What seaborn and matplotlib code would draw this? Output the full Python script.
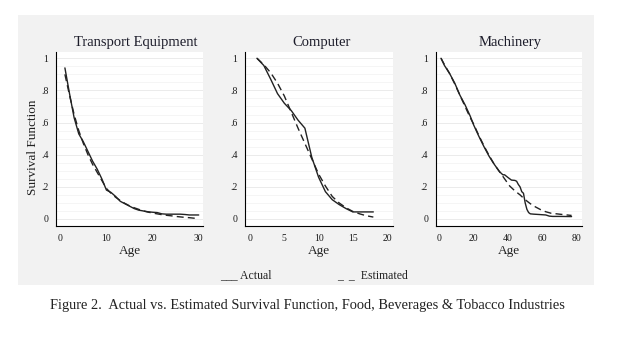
import matplotlib
matplotlib.use("Agg")
import matplotlib.pyplot as plt
from matplotlib.patches import Rectangle
from matplotlib.ticker import MultipleLocator
import pandas as pd
import seaborn as sns

# ---- data -------------------------------------------------------------
panel_titles = ["Transport Equipment", "Computer", "Machinery"]

transport_age = list(range(1, 31))
transport_actual = [0.94, 0.78, 0.63, 0.53, 0.48, 0.42, 0.36, 0.31, 0.25, 0.18,
                    0.165, 0.14, 0.11, 0.095, 0.08, 0.065, 0.055, 0.05, 0.045, 0.042,
                    0.04, 0.032, 0.03, 0.03, 0.03, 0.03, 0.028, 0.025, 0.025, 0.025]
transport_estimated = [0.90, 0.77, 0.65, 0.55, 0.47, 0.40, 0.34, 0.29, 0.24, 0.19,
                       0.16, 0.135, 0.115, 0.097, 0.082, 0.07, 0.06, 0.05, 0.043, 0.037,
                       0.032, 0.027, 0.023, 0.02, 0.016, 0.013, 0.01, 0.008, 0.005, 0.002]

computer_age = list(range(1, 19))
computer_actual = [1.0, 0.955, 0.87, 0.78, 0.72, 0.675, 0.615, 0.565, 0.385, 0.26,
                   0.17, 0.12, 0.09, 0.065, 0.044, 0.044, 0.044, 0.044]
computer_estimated = [1.0, 0.96, 0.91, 0.845, 0.765, 0.665, 0.565, 0.47, 0.375, 0.28,
                      0.205, 0.14, 0.10, 0.07, 0.047, 0.032, 0.02, 0.012]

machinery_age_actual = [1, 3, 6, 9, 12, 15, 18, 20, 23, 26, 29, 32, 35, 37, 38, 40, 42,
                        44, 45, 46, 47, 48, 49, 50, 51, 52, 53, 55, 58, 62, 64, 66, 70, 77]
machinery_actual = [1.0, 0.955, 0.905, 0.845, 0.77, 0.71, 0.64, 0.585, 0.515, 0.45,
                    0.39, 0.34, 0.295, 0.275, 0.275, 0.258, 0.242, 0.24, 0.235, 0.215,
                    0.20, 0.17, 0.16, 0.10, 0.06, 0.04, 0.032, 0.03, 0.028, 0.025,
                    0.018, 0.016, 0.016, 0.015]
machinery_age_est = [1, 3, 6, 9, 12, 15, 18, 20, 23, 26, 29, 32, 35, 38, 41, 44, 47,
                     50, 53, 56, 59, 62, 65, 70, 77]
machinery_estimated = [1.0, 0.96, 0.905, 0.84, 0.77, 0.70, 0.63, 0.59, 0.52, 0.455,
                       0.395, 0.34, 0.295, 0.25, 0.205, 0.175, 0.15, 0.12, 0.095,
                       0.075, 0.058, 0.045, 0.036, 0.03, 0.022]

x_ticks = [[0, 10, 20, 30], [0, 5, 10, 15, 20], [0, 20, 40, 60, 80]]
x_limits = [(-0.93, 30.93), (-0.75, 20.8), (-2.1, 82.9)]
y_ticks = [0, 0.2, 0.4, 0.6, 0.8, 1.0]
y_tick_labels = ["0", ".2", ".4", ".6", ".8", "1"]

series = [
    (transport_age, transport_actual, transport_age, transport_estimated),
    (computer_age, computer_actual, computer_age, computer_estimated),
    (machinery_age_actual, machinery_actual, machinery_age_est, machinery_estimated),
]

# ---- style ------------------------------------------------------------
sns.set_style("white")
plt.rcParams["font.family"] = ["Liberation Serif", "DejaVu Serif"]
plt.rcParams["axes.linewidth"] = 0.8

W, H = 619, 338
fig = plt.figure(figsize=(W / 100, H / 100), dpi=100)
fig.patch.set_facecolor("white")

# light grey graph region behind the three panels and the legend
fig.patches.append(Rectangle((18 / W, (H - 285) / H), (594 - 18) / W, (285 - 15) / H,
                             transform=fig.transFigure, facecolor="#f2f2f2",
                             edgecolor="none", zorder=-10))

lefts = [56, 245, 435.7]
widths = [147, 147.5, 146]
title_x = [0.544, 0.52, 0.509]
ax_bottom, ax_height = H - 226, 174
line_color = "#222222"

for i, (xa, ya, xe, ye) in enumerate(series):
    ax = fig.add_axes([lefts[i] / W, ax_bottom / H, widths[i] / W, ax_height / H])
    ax.set_zorder(1)
    ax.set_facecolor("white")

    df_a = pd.DataFrame({"Age": xa, "Survival": ya})
    df_e = pd.DataFrame({"Age": xe, "Survival": ye})
    sns.lineplot(data=df_a, x="Age", y="Survival", ax=ax, color=line_color,
                 linewidth=1.0, estimator=None, sort=False)
    sns.lineplot(data=df_e, x="Age", y="Survival", ax=ax, color=line_color,
                 linewidth=1.0, estimator=None, sort=False)
    ax.lines[-1].set_dashes((5, 3))

    ax.set_xlim(*x_limits[i])
    ax.set_ylim(-0.0436, 1.039)
    ax.set_xticks(x_ticks[i])
    ax.set_xticklabels([str(t) for t in x_ticks[i]])
    ax.set_yticks(y_ticks)
    ax.set_yticklabels(y_tick_labels)
    ax.yaxis.set_minor_locator(MultipleLocator(0.05))

    ax.grid(axis="y", which="major", color="#ebebeb", linewidth=0.7, zorder=0)
    ax.grid(axis="y", which="minor", color="#f4f4f4", linewidth=0.6, zorder=0)
    ax.set_axisbelow(True)

    for side in ("top", "right"):
        ax.spines[side].set_visible(False)
    for side in ("left", "bottom"):
        ax.spines[side].set_color("black")
        ax.spines[side].set_linewidth(0.8)

    ax.tick_params(axis="both", which="major", direction="out", length=3.5,
                   width=0.7, color="black", labelsize=7, pad=2,
                   labelcolor="#1a1a1a")
    ax.tick_params(axis="y", which="minor", length=0)

    ax.set_xlabel("Age", fontsize=9.5, color="#222222")
    ax.xaxis.set_label_coords(0.5, -0.112)
    if i == 0:
        ax.set_ylabel("Survival Function", fontsize=9.5, color="#222222")
        ax.yaxis.set_label_coords(-0.118, 0.45)
    else:
        ax.set_ylabel("")

    ax.text(title_x[i], 1.052, panel_titles[i], transform=ax.transAxes,
            ha="center", va="center", fontsize=10.5, color="#1c1c2a")

# text legend below the panels
fig.text(220 / W, 1 - 275 / H, "___ Actual", ha="left", va="center",
         fontsize=8.5, color="#222222")
fig.text(337 / W, 1 - 275 / H, "_  _  Estimated", ha="left", va="center",
         fontsize=8.5, color="#222222")

# caption
fig.text(0.5 * (50 + 565) / W, 1 - 306 / H,
         "Figure 2.  Actual vs. Estimated Survival Function, Food, Beverages & Tobacco Industries",
         ha="center", va="center", fontsize=10.4, color="#222222")

fig.savefig("out.png", dpi=100)
